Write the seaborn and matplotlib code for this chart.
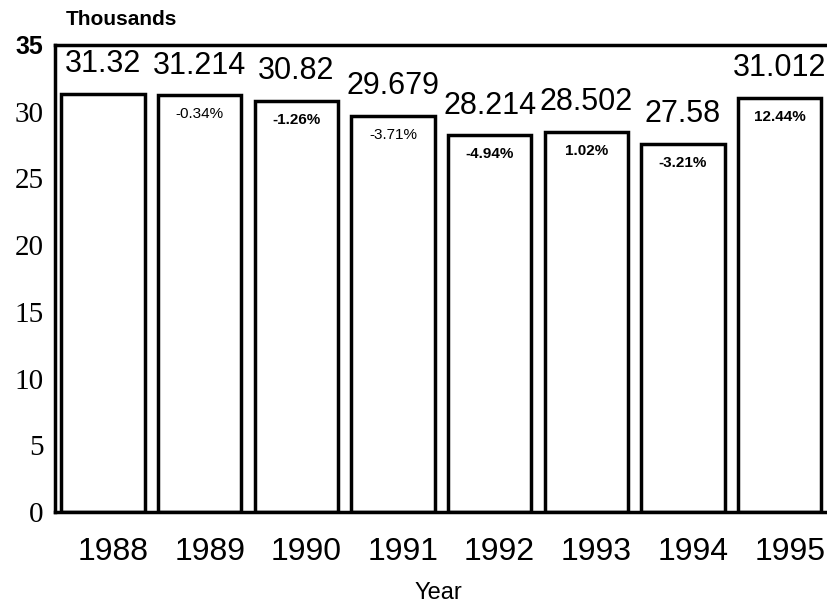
import matplotlib
matplotlib.use("Agg")
import matplotlib.pyplot as plt
import matplotlib.transforms as mtransforms
import seaborn as sns
import pandas as pd

years = ["1988", "1989", "1990", "1991", "1992", "1993", "1994", "1995"]
values = [31.32, 31.214, 30.82, 29.679, 28.214, 28.502, 27.58, 31.012]
value_labels = ["31.32", "31.214", "30.82", "29.679", "28.214", "28.502", "27.58", "31.012"]
pct_labels = ["", "-0.34%", "-1.26%", "-3.71%", "-4.94%", "1.02%", "-3.21%", "12.44%"]
pct_bold = [False, False, True, False, True, True, True, True]
yticks = [0, 5, 10, 15, 20, 25, 30, 35]

df = pd.DataFrame({"Year": years, "Value": values})

sns.set_style("white")
plt.rcParams['font.family'] = ['Liberation Sans', 'DejaVu Sans']
plt.rcParams['text.color'] = 'black'
plt.rcParams['xtick.color'] = 'black'
plt.rcParams['ytick.color'] = 'black'
plt.rcParams['axes.labelcolor'] = 'black'

fig = plt.figure(figsize=(8.28, 6.14), dpi=100)
ax = fig.add_axes([0.066, 0.166, 0.934, 0.761])

sns.barplot(data=df, x="Year", y="Value", color="white", edgecolor="black",
            linewidth=2.5, width=0.86, ax=ax)

# value above each bar, change vs previous year just inside the top
for i, (v, lab, pct, b) in enumerate(zip(values, value_labels, pct_labels, pct_bold)):
    ax.text(i, v + 1.1, lab, ha="center", va="bottom", fontsize=22, clip_on=False)
    if pct:
        ax.text(i, v - 0.9, pct, ha="center", va="top", fontsize=11,
                fontweight="bold" if b else "normal")

ax.set_ylim(0, 35)
ax.set_xlim(-0.5, 7.5)
ax.set_yticks(yticks)
ax.set_yticklabels([str(t) for t in yticks])
for t in ax.get_yticklabels()[:-1]:
    t.set_family(['Liberation Serif', 'DejaVu Serif'])
    t.set_fontsize(21)
ax.get_yticklabels()[-1].set_fontsize(18)
ax.get_yticklabels()[-1].set_fontweight("bold")
ax.tick_params(axis="x", labelsize=23, pad=18, length=0)
ax.tick_params(axis="y", length=0, pad=8)

shift = mtransforms.ScaledTranslation(0.1, 0, fig.dpi_scale_trans)
for t in ax.get_xticklabels():
    t.set_transform(t.get_transform() + shift)

ax.set_xlabel("")
ax.set_ylabel("")
fig.text(0.53, 0.035, "Year", fontsize=17, ha="center", va="center")
fig.text(0.08, 0.952, "Thousands", fontsize=15, fontweight="bold", va="bottom")

for side in ["left", "top", "bottom"]:
    ax.spines[side].set_linewidth(2.5)
    ax.spines[side].set_color("black")
ax.spines["right"].set_visible(False)

fig.savefig("out.png", dpi=100)
